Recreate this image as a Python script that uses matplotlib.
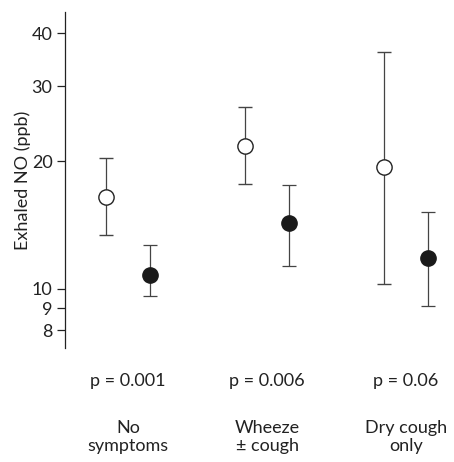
import matplotlib
matplotlib.use('Agg')
from matplotlib import pyplot as plt
from matplotlib.transforms import blended_transform_factory
from matplotlib.ticker import FixedLocator, FixedFormatter, NullLocator

plt.rcParams['font.family'] = ['Lato', 'DejaVu Sans']

# data
groups = ['No\nsymptoms', 'Wheeze\n\u00b1 cough', 'Dry cough\nonly']
p_labels = ['p = 0.001', 'p = 0.006', 'p = 0.06']
open_mean = [16.5, 21.7, 19.4]
open_low = [13.4, 17.7, 10.3]
open_high = [20.3, 26.8, 36.1]
filled_mean = [10.8, 14.3, 11.8]
filled_low = [9.6, 11.3, 9.1]
filled_high = [12.7, 17.6, 15.2]
yticks = [8, 9, 10, 20, 30, 40]

fig = plt.figure(figsize=(4.54, 4.62), dpi=100)
ax = fig.add_axes([65/454, 114/462, 389/454, 336/462])

xc = [1, 2, 3]
off = 0.155
x_open = [x - off for x in xc]
x_fill = [x + off for x in xc]

err_open = [[m - l for m, l in zip(open_mean, open_low)],
            [h - m for m, h in zip(open_mean, open_high)]]
err_fill = [[m - l for m, l in zip(filled_mean, filled_low)],
            [h - m for m, h in zip(filled_mean, filled_high)]]

ax.errorbar(x_open, open_mean, yerr=err_open, fmt='o', ms=11,
            mfc='white', mec='#222222', mew=1.0, ecolor='#444444',
            elinewidth=0.9, capsize=5, capthick=0.9, zorder=3)
ax.errorbar(x_fill, filled_mean, yerr=err_fill, fmt='o', ms=11,
            mfc='#1a1a1a', mec='#1a1a1a', ecolor='#444444',
            elinewidth=0.9, capsize=5, capthick=0.9, zorder=3)

ax.set_yscale('log')
ax.set_ylim(7.26, 44.9)
ax.set_xlim(0.547, 3.345)
ax.yaxis.set_major_locator(FixedLocator(yticks))
ax.yaxis.set_major_formatter(FixedFormatter([str(t) for t in yticks]))
ax.yaxis.set_minor_locator(NullLocator())
ax.tick_params(axis='y', length=6, width=0.9, labelsize=13, pad=3, colors='#222222')
ax.set_xticks([])

for s in ['top', 'right', 'bottom']:
    ax.spines[s].set_visible(False)
ax.spines['left'].set_linewidth(0.9)
ax.spines['left'].set_color('#222222')

ax.set_ylabel('Exhaled NO (ppb)', fontsize=13, color='#222222')
ax.yaxis.set_label_coords(-0.087, 0.5)

trans = blended_transform_factory(ax.transData, fig.transFigure)
for x, p, g in zip(xc, p_labels, groups):
    ax.text(x, 1 - 381/462, p, transform=trans,
            ha='center', va='center', fontsize=13, color='#222222')
    ax.text(x, 1 - 437/462, g, transform=trans,
            ha='center', va='center', fontsize=13, color='#222222', linespacing=1.2)

fig.savefig('out.png', dpi=100)
